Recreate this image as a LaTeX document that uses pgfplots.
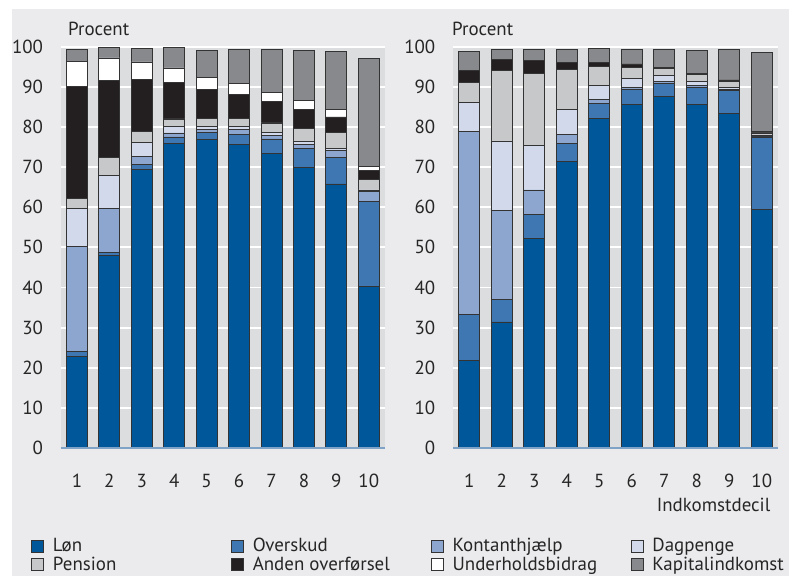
\documentclass[border=0pt]{standalone}
\usepackage{pgfplots}
\pgfplotsset{compat=1.18}
\usepackage{pgfplotstable}
\usepackage{fontspec}
\setmainfont{PT Sans}
\definecolor{clon}{HTML}{00589B}
\definecolor{cover}{HTML}{3E77B1}
\definecolor{ckont}{HTML}{8CA6CF}
\definecolor{cdag}{HTML}{D1D9EB}
\definecolor{cpen}{HTML}{C7C8CA}
\definecolor{cand}{HTML}{231F20}
\definecolor{cund}{HTML}{FFFFFF}
\definecolor{ckap}{HTML}{88898C}
\definecolor{plotbg}{HTML}{DCDDDF}
\definecolor{figbg}{HTML}{EBEBED}
\definecolor{axblue}{HTML}{7FA3C7}
\definecolor{edge}{HTML}{333333}

\pgfplotstableread{
x lon over kont dag pen and und kap
1 22.8 1.2 26.2 9.6 2.3 28.0 6.3 3.0
2 47.9 0.8 11.0 8.3 4.5 19.1 5.6 2.5
3 69.3 1.3 2.0 3.6 2.6 13.0 4.4 3.3
4 76.0 1.5 1.0 1.6 1.9 9.2 3.5 5.0
5 76.8 1.8 0.8 0.8 2.0 7.2 3.0 6.6
6 75.7 2.5 1.1 0.8 2.0 6.0 2.8 8.5
7 73.5 3.5 0.9 0.8 2.3 5.3 2.3 10.7
8 69.8 4.8 1.1 0.8 3.2 4.7 2.1 12.6
9 65.8 6.7 1.7 0.5 4.0 3.8 1.9 14.4
10 40.2 21.3 2.4 0.4 2.7 2.2 1.0 26.9
}\lefttab

\pgfplotstableread{
x lon over kont dag pen and und kap
1 21.9 11.4 45.6 7.2 5.0 3.0 0.0 4.7
2 31.4 5.7 22.2 17.2 17.6 2.7 0.0 2.6
3 52.3 5.8 6.2 11.0 18.1 3.1 0.0 2.9
4 71.5 4.4 2.2 6.2 10.0 1.8 0.0 3.3
5 82.1 3.7 1.0 3.6 4.6 1.0 0.0 3.5
6 85.6 3.7 0.6 2.2 2.8 0.8 0.0 3.7
7 87.5 3.4 0.4 1.5 1.7 0.4 0.0 4.5
8 85.7 4.2 0.4 1.0 1.7 0.3 0.0 5.8
9 83.3 5.7 0.4 0.5 1.5 0.3 0.0 7.6
10 59.5 18.0 0.2 0.3 0.5 0.2 0.1 19.8
}\righttab

\pgfplotsset{
  panel/.style={
    scale only axis,
    height=401.3bp,
    xmin=0.5, xmax=10.5, ymin=0, ymax=100,
    ybar stacked,
    bar width=21bp,
    axis background/.style={fill=plotbg},
    axis line style={draw=none},
    major tick length=0pt,
    ymajorgrids,
    grid style={white, line width=1.8bp},
    ytick={0,10,...,100},
    xtick={1,...,10},
    tick label style={font=\fontsize{19}{22}\selectfont, text=black!85},
    /pgf/number format/assume math mode=true,
    yticklabel style={anchor=east, inner sep=0pt, xshift=-17.5bp},
    xticklabel style={anchor=base, inner sep=0pt, yshift=-40bp},
    every axis plot/.append style={draw=edge, line width=0.8bp},
    after end axis/.code={\draw[axblue, line width=2bp] (rel axis cs:0,0) -- (rel axis cs:1,0);},
    legend image code/.code={\draw[#1, draw=edge, line width=0.8bp] (0bp,-6bp) rectangle (12bp,6bp);},
  }
}

\begin{document}
\begin{tikzpicture}[x=1bp,y=1bp]
\useasboundingbox (0,0) rectangle (789,576);
\fill[white] (0,0) rectangle (789,576);
\fill[figbg] (12,0) rectangle (789,567);

\begin{axis}[panel, at={(60.7bp,128bp)}, anchor=south west, width=324.3bp,
  legend columns=4,
  legend style={at={(-0.0916,-0.2199)}, anchor=north west, draw=none, fill=none,
    inner sep=0pt, font=\fontsize{19}{22}\selectfont, row sep=0bp,
    /tikz/every odd column/.append style={column sep=7bp},
    /tikz/every even column/.append style={column sep=6bp},
    nodes={inner sep=2bp, text=black!85}},
  ]
\addplot[fill=clon] table[x=x,y=lon]{\lefttab};
\addlegendentry{\makebox[170bp][l]{Løn}}
\addplot[fill=cover] table[x=x,y=over]{\lefttab};
\addlegendentry{\makebox[170bp][l]{Overskud}}
\addplot[fill=ckont] table[x=x,y=kont]{\lefttab};
\addlegendentry{\makebox[170bp][l]{Kontanthjælp}}
\addplot[fill=cdag] table[x=x,y=dag]{\lefttab};
\addlegendentry{\makebox[125bp][l]{Dagpenge}}
\addplot[fill=cpen] table[x=x,y=pen]{\lefttab};
\addlegendentry{\makebox[170bp][l]{Pension}}
\addplot[fill=cand] table[x=x,y=and]{\lefttab};
\addlegendentry{\makebox[170bp][l]{Anden overførsel}}
\addplot[fill=cund] table[x=x,y=und]{\lefttab};
\addlegendentry{\makebox[170bp][l]{Underholdsbidrag}}
\addplot[fill=ckap] table[x=x,y=kap]{\lefttab};
\addlegendentry{\makebox[125bp][l]{Kapitalindkomst}}
\end{axis}

\begin{axis}[panel, at={(453bp,128bp)}, anchor=south west, width=325bp]
\addplot[fill=clon] table[x=x,y=lon]{\righttab};
\addplot[fill=cover] table[x=x,y=over]{\righttab};
\addplot[fill=ckont] table[x=x,y=kont]{\righttab};
\addplot[fill=cdag] table[x=x,y=dag]{\righttab};
\addplot[fill=cpen] table[x=x,y=pen]{\righttab};
\addplot[fill=cand] table[x=x,y=and]{\righttab};
\addplot[fill=cund] table[x=x,y=und]{\righttab};
\addplot[fill=ckap] table[x=x,y=kap]{\righttab};
\end{axis}

\node[anchor=base west, inner sep=0pt, font=\fontsize{19}{22}\selectfont, text=black!85] at (68,540.5) {Procent};
\node[anchor=base west, inner sep=0pt, font=\fontsize{19}{22}\selectfont, text=black!85] at (452,540.5) {Procent};
\node[anchor=base east, inner sep=0pt, font=\fontsize{19}{22}\selectfont, text=black!85] at (770.5,64.5) {Indkomstdecil};
\end{tikzpicture}
\end{document}
